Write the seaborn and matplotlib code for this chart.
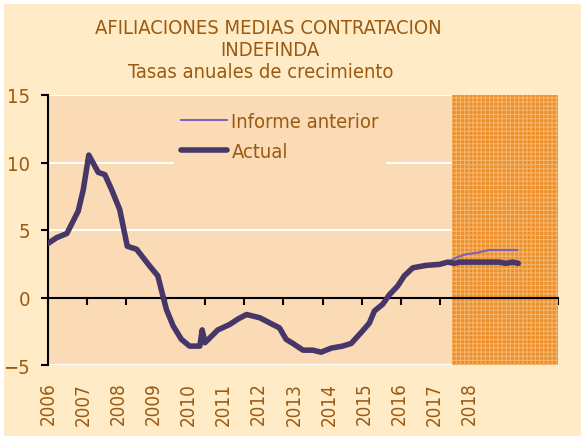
import numpy as np
import pandas as pd
import seaborn as sns
import matplotlib
matplotlib.use("Agg")
import matplotlib.pyplot as plt
from matplotlib.patches import Rectangle

# datos
actual_x = [2006.0, 2006.22, 2006.48, 2006.77, 2006.9, 2007.04, 2007.28, 2007.45, 2007.62, 2007.83,
            2008.02, 2008.26, 2008.6, 2008.8, 2008.93, 2009.02, 2009.19, 2009.4, 2009.61, 2009.87,
            2009.93, 2010.0, 2010.33, 2010.63, 2010.84, 2011.06, 2011.4, 2011.73, 2011.9, 2012.07,
            2012.24, 2012.5, 2012.75, 2012.96, 2013.22, 2013.51, 2013.73, 2013.98, 2014.19, 2014.32,
            2014.53, 2014.7, 2014.91, 2015.08, 2015.3, 2015.64, 2015.97, 2016.19, 2016.36, 2016.48,
            2016.9, 2017.5, 2017.67, 2017.84, 2017.99]
actual_y = [4.0, 4.43, 4.74, 6.4, 8.0, 10.55, 9.27, 9.1, 8.0, 6.5,
            3.8, 3.57, 2.3, 1.6, 0.1, -0.9, -2.1, -3.1, -3.6, -3.6,
            -2.4, -3.35, -2.4, -2.0, -1.6, -1.26, -1.5, -2.0, -2.25, -3.1,
            -3.4, -3.9, -3.9, -4.05, -3.75, -3.6, -3.4, -2.6, -1.9, -1.0,
            -0.5, 0.2, 0.84, 1.6, 2.2, 2.38, 2.45, 2.62, 2.53, 2.62,
            2.62, 2.62, 2.53, 2.62, 2.53]

# informe anterior: igual hasta 2016.19, luego su propia senda
anterior_tail_x = [2016.4, 2016.65, 2016.95, 2017.25, 2017.97]
anterior_tail_y = [2.95, 3.2, 3.32, 3.52, 3.52]
anterior_x = actual_x[:48] + anterior_tail_x
anterior_y = actual_y[:48] + anterior_tail_y

year_labels = [str(a) for a in range(2006, 2019)]
forecast_start = 2016.3
forecast_end = 2019.0

df_act = pd.DataFrame({"fecha": actual_x, "tasa": actual_y})
df_ant = pd.DataFrame({"fecha": anterior_x, "tasa": anterior_y})

sns.set_style("white")
plt.rcParams['font.family'] = ['DejaVu Sans']
plt.rcParams['font.stretch'] = 'condensed'
plt.rcParams['hatch.linewidth'] = 0.8

brown = "#9a5a12"
cream = "#ffebc6"
plotbg = "#fadbb5"

fig = plt.figure(figsize=(5.81, 4.39), dpi=100)
fig.patch.set_facecolor("white")
fig.patches.append(Rectangle((4/581, 2/439), 1 - 4/581, 1 - 7/439, transform=fig.transFigure,
                             facecolor=cream, edgecolor="none", zorder=-1))

ax = fig.add_axes([48/581, 1 - 366/439, 510/581, 270/439])
ax.set_facecolor(plotbg)
ax.set_zorder(1)

# zona de prevision
ax.axvspan(forecast_start, forecast_end, facecolor="#ec8f2a", edgecolor="#f6b56a",
           hatch="++++", linewidth=0, zorder=1)

sns.lineplot(data=df_ant, x="fecha", y="tasa", ax=ax, color="#7b62b4", linewidth=1.5,
             label="Informe anterior", zorder=3)
sns.lineplot(data=df_act, x="fecha", y="tasa", ax=ax, color="#473768", linewidth=4,
             label="Actual", zorder=4, solid_capstyle="round")

ax.set_xlim(2006, 2019)
ax.set_ylim(-5, 15)
ax.set_yticks([-5, 0, 5, 10, 15])
ax.yaxis.grid(True, color="white", linewidth=1.5)
ax.set_axisbelow(True)

for s in ["top", "right"]:
    ax.spines[s].set_visible(False)
ax.spines["left"].set_color("black")
ax.spines["left"].set_linewidth(1.5)
ax.spines["bottom"].set_position(("data", 0))
ax.spines["bottom"].set_color("black")
ax.spines["bottom"].set_linewidth(1.5)

ax.set_xticks(range(2006, 2020))
ax.set_xticklabels([])
ax.tick_params(axis="x", direction="out", length=5, width=1.5, color="black", bottom=True)
ax.tick_params(axis="y", direction="out", length=5, width=1.5, color="black", left=True,
               labelsize=14.5, labelcolor=brown, pad=8)
ax.set_xlabel("")
ax.set_ylabel("")

# etiquetas de los anos en la parte inferior
sec = ax.secondary_xaxis(0)
sec.spines["bottom"].set_visible(False)
sec.set_xticks(np.linspace(2006.0, 2016.74, len(year_labels)))
sec.set_xticklabels(year_labels, rotation=90)
sec.tick_params(axis="x", length=0, pad=12, labelsize=13.5, labelcolor=brown)

leg = ax.legend(loc="upper left", bbox_to_anchor=(116/510, 1.0), frameon=True,
                facecolor=plotbg, edgecolor="none", framealpha=1, fontsize=14.5,
                handlelength=2.3, handletextpad=0.2, labelspacing=0.55, borderpad=0.35)
for t in leg.get_texts():
    t.set_color(brown)
leg.set_zorder(5)

fig.text(268/581, 1 - 28/439, "AFILIACIONES MEDIAS CONTRATACION", ha="center", va="center",
         fontsize=14.5, color=brown)
fig.text(270/581, 1 - 50/439, "INDEFINDA", ha="center", va="center", fontsize=14.5, color=brown)
fig.text(261/581, 1 - 73/439, "Tasas anuales de crecimiento", ha="center", va="center",
         fontsize=14.5, color=brown)

fig.savefig("out.png", dpi=100, facecolor=fig.get_facecolor())
